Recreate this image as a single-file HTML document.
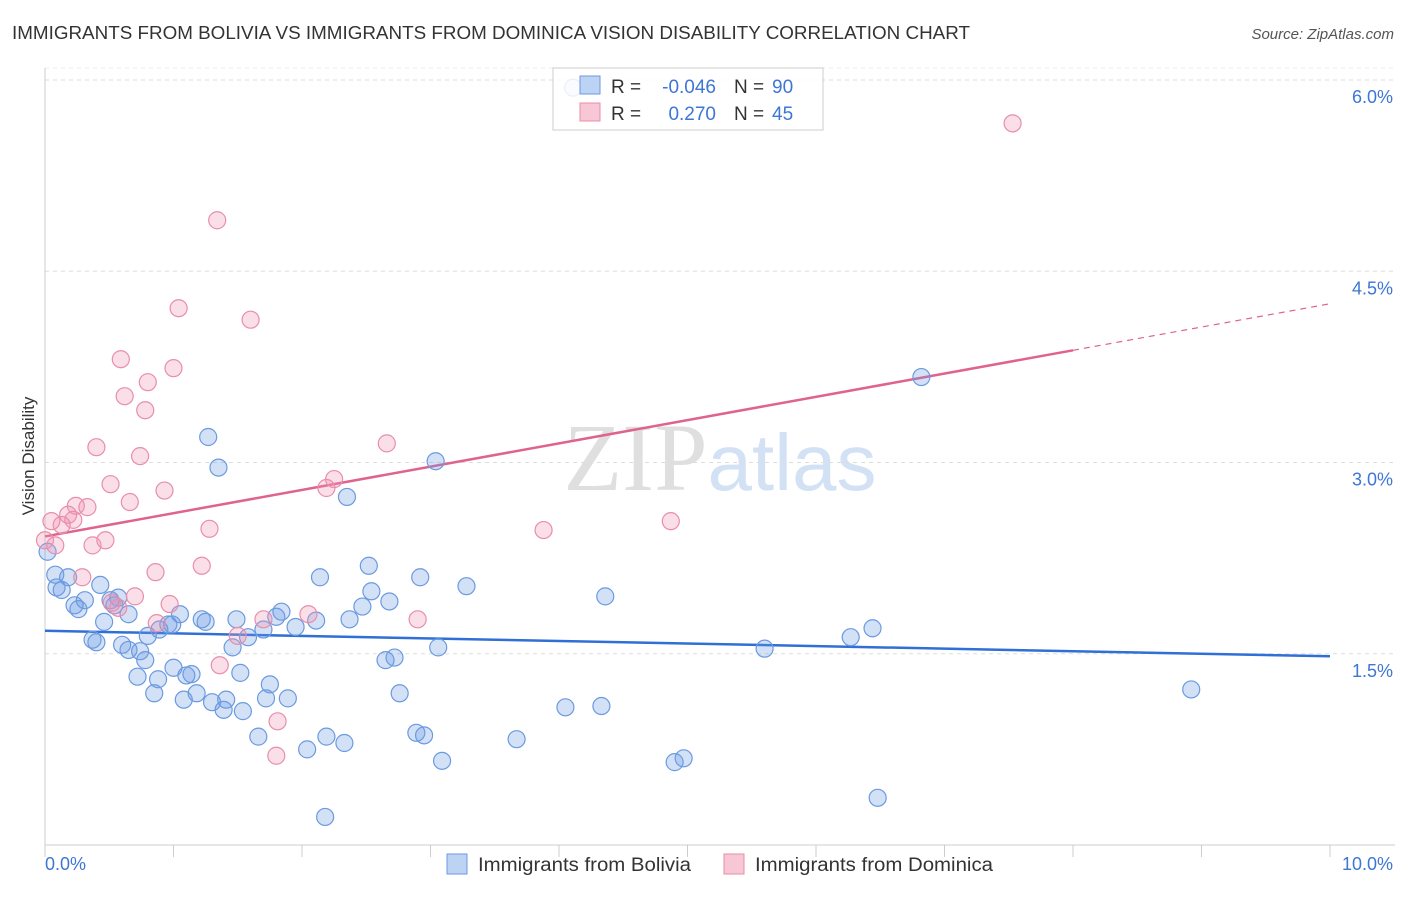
<!DOCTYPE html>
<html><head><meta charset="utf-8"><style>
body{margin:0;background:#fff;font-family:"Liberation Sans",sans-serif;}
svg text{font-family:"Liberation Sans",sans-serif;}
</style></head><body>
<svg id="chart" width="1406" height="892" xmlns="http://www.w3.org/2000/svg">
<text x="12" y="39" font-size="18" fill="#333" textLength="958" lengthAdjust="spacingAndGlyphs">IMMIGRANTS FROM BOLIVIA VS IMMIGRANTS FROM DOMINICA VISION DISABILITY CORRELATION CHART</text>
<text x="1394" y="39" font-size="15" fill="#555" font-style="italic" text-anchor="end">Source: ZipAtlas.com</text>
<text x="720" y="490" font-size="96" text-anchor="middle" fill="#ddd" opacity="0.8"><tspan font-family="Liberation Serif" fill="#d8d8d8">ZIP</tspan><tspan fill="#c9daf2" font-size="80">atlas</tspan></text>
<text transform="translate(34,456) rotate(-90)" font-size="17" fill="#333" text-anchor="middle">Vision Disability</text>
<g id="grid"></g><g id="axes"></g><g id="trends"></g><g id="pts"></g>
<g>
<rect x="553" y="68" width="270" height="62" fill="#fff" fill-opacity="0.85" stroke="#ccc"/>
<rect x="580" y="76" width="20" height="18" fill="#bcd3f3" stroke="#6b9ae0"/>
<rect x="580" y="103" width="20" height="18" fill="#f8c7d6" stroke="#e88eab"/>
<text x="611" y="93" font-size="19" fill="#333">R =</text>
<text x="716" y="93" font-size="19" fill="#3d76d4" text-anchor="end">-0.046</text>
<text x="734" y="93" font-size="19" fill="#333">N =</text>
<text x="772" y="93" font-size="19" fill="#3d76d4">90</text>
<text x="611" y="120" font-size="19" fill="#333">R =</text>
<text x="716" y="120" font-size="19" fill="#3d76d4" text-anchor="end">0.270</text>
<text x="734" y="120" font-size="19" fill="#333">N =</text>
<text x="772" y="120" font-size="19" fill="#3d76d4">45</text>
</g>
<g>
<rect x="447" y="854" width="20" height="20" fill="#bcd3f3" stroke="#6b9ae0"/>
<text x="478" y="871" font-size="19" fill="#333" textLength="213" lengthAdjust="spacingAndGlyphs">Immigrants from Bolivia</text>
<rect x="724" y="854" width="20" height="20" fill="#f8c7d6" stroke="#e88eab"/>
<text x="755" y="871" font-size="19" fill="#333" textLength="238" lengthAdjust="spacingAndGlyphs">Immigrants from Dominica</text>
</g>
<text x="45" y="870" font-size="18" fill="#3d76d4">0.0%</text>
<text x="1393" y="870" font-size="18" fill="#3d76d4" text-anchor="end">10.0%</text>
</svg>
<script>
const yTicks=[1.5,3.0,4.5,6.0];
const yTickLabels=["1.5%","3.0%","4.5%","6.0%"];
const xTicks=[0,1,2,3,4,5,6,7,8,9,10];
const boliviaX=[4.11,1.27,1.35,3.04,2.35,6.82,0.08,0.18,0.09,0.13,0.43,0.23,0.31,0.26,0.51,0.57,0.54,0.46,0.65,0.37,0.40,0.60,0.65,0.74,0.78,0.80,0.89,0.96,0.99,1.05,1.22,1.25,1.49,1.46,1.58,1.70,1.80,1.84,1.95,2.11,2.14,2.37,2.47,2.52,2.54,2.68,2.92,3.28,4.36,2.65,2.72,3.06,1.52,1.75,1.89,2.76,0.72,0.85,0.88,1.00,1.10,1.14,1.18,1.08,1.30,1.41,1.39,1.54,1.72,1.66,2.04,2.19,2.33,2.89,2.95,3.09,3.67,4.05,4.33,4.90,4.97,5.60,6.27,6.44,8.92,6.48,2.18,0.02];
const boliviaY=[5.94,3.20,2.96,3.01,2.73,3.67,2.12,2.10,2.02,2.00,2.04,1.88,1.92,1.85,1.92,1.94,1.88,1.75,1.81,1.61,1.59,1.57,1.53,1.52,1.45,1.64,1.69,1.73,1.73,1.81,1.77,1.75,1.77,1.55,1.63,1.69,1.79,1.83,1.71,1.76,2.10,1.77,1.87,2.19,1.99,1.91,2.10,2.03,1.95,1.45,1.47,1.55,1.35,1.26,1.15,1.19,1.32,1.19,1.30,1.39,1.33,1.34,1.19,1.14,1.12,1.14,1.06,1.05,1.15,0.85,0.75,0.85,0.80,0.88,0.86,0.66,0.83,1.08,1.09,0.65,0.68,1.54,1.63,1.70,1.22,0.37,0.22,2.30];
const dominicaX=[1.34,1.04,1.60,0.59,1.00,0.80,0.62,0.78,0.40,0.74,2.66,0.51,0.93,0.66,0.24,0.33,0.18,0.22,0.13,0.05,0.00,0.08,0.37,0.47,1.28,2.25,2.19,3.88,4.87,7.53,1.22,0.86,0.29,0.70,0.57,0.52,0.97,0.87,1.70,2.05,2.90,1.50,1.36,1.81,1.80];
const dominicaY=[4.90,4.21,4.12,3.81,3.74,3.63,3.52,3.41,3.12,3.05,3.15,2.83,2.78,2.69,2.66,2.65,2.59,2.55,2.51,2.54,2.39,2.35,2.35,2.39,2.48,2.87,2.80,2.47,2.54,5.66,2.19,2.14,2.10,1.95,1.86,1.90,1.89,1.74,1.77,1.81,1.77,1.64,1.41,0.97,0.70];
const boliviaTrend=[1.68,1.48];
const dominicaTrend=[2.42,4.245];
const dominicaSolidEnd=8.0;
const X=v=>45+v*128.5, Y=v=>845-v*127.5;
const NS="http://www.w3.org/2000/svg";
function mk(t,a,p){const e=document.createElementNS(NS,t);for(const k in a)e.setAttribute(k,a[k]);p.appendChild(e);return e;}
const grid=document.getElementById('grid'),axes=document.getElementById('axes'),tr=document.getElementById('trends'),pts=document.getElementById('pts');
yTicks.forEach((t,i)=>{
 const l=mk('line',{x1:45,x2:1395,y1:Y(t),y2:Y(t),stroke:'#ddd','stroke-dasharray':'4,4'},grid);
 
 
 const tx=mk('text',{x:1393,y:Y(t)+23,'font-size':18,fill:'#3d76d4','text-anchor':'end'},grid);
 tx.textContent=yTickLabels[i];
 
 
});
mk('line',{x1:45,x2:1395,y1:Y(6.0)-12,y2:Y(6.0)-12,stroke:'#eee','stroke-dasharray':'4,4'},grid);
const ax=mk('line',{x1:45,x2:1395,y1:845,y2:845,stroke:'#ccc'},axes);


const ay=mk('line',{x1:45,x2:45,y1:68,y2:845,stroke:'#ccc'},axes);


xTicks.forEach(t=>{const l=mk('line',{x1:X(t),x2:X(t),y1:845,y2:857,stroke:'#ccc'},axes);
 
 });
function dot(x,y,f,s,n){const c=mk('circle',{cx:X(x),cy:Y(y),r:8.5,fill:f,stroke:s,'stroke-width':1.2},pts);
 
 }
boliviaX.forEach((x,i)=>dot(x,boliviaY[i],'rgba(110,155,230,0.3)','#6b9ae0','bolivia-point'));
dominicaX.forEach((x,i)=>dot(x,dominicaY[i],'rgba(242,150,180,0.3)','#e88eab','dominica-point'));
const bl=mk('line',{x1:X(0),y1:Y(boliviaTrend[0]),x2:X(10),y2:Y(boliviaTrend[1]),stroke:'#2f6fd6','stroke-width':2.5},tr);


const dm=v=>dominicaTrend[0]+(dominicaTrend[1]-dominicaTrend[0])*v/10;
const dl=mk('line',{x1:X(0),y1:Y(dm(0)),x2:X(dominicaSolidEnd),y2:Y(dm(dominicaSolidEnd)),stroke:'#e0628e','stroke-width':2.5},tr);


const dd=mk('line',{x1:X(dominicaSolidEnd),y1:Y(dm(dominicaSolidEnd)),x2:X(10),y2:Y(dm(10)),stroke:'#e0628e','stroke-width':1.2,'stroke-dasharray':'6,5'},tr);


</script>
</body></html>
